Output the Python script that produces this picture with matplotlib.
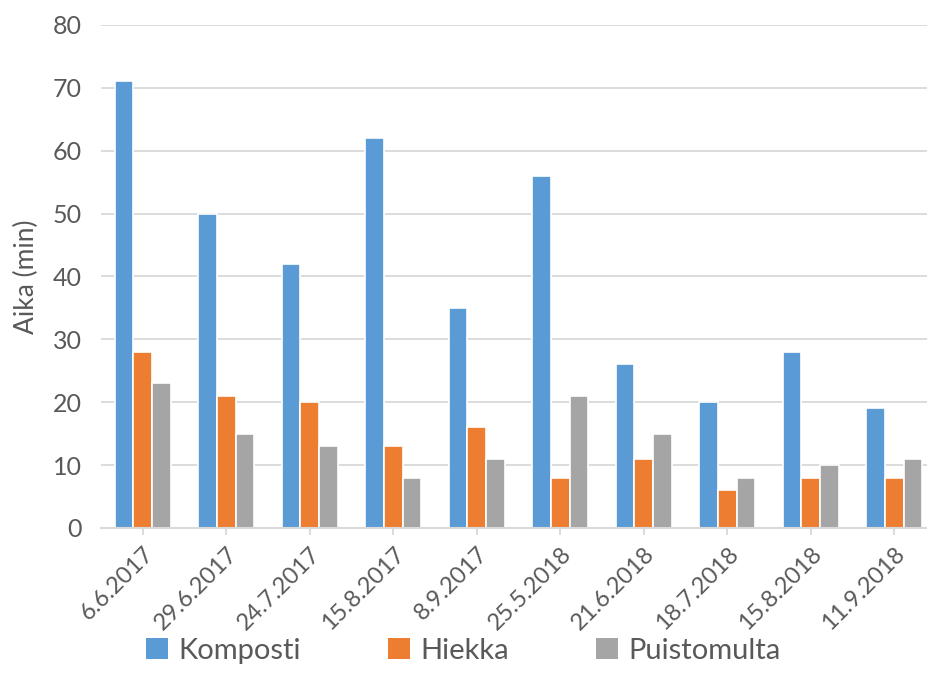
import numpy as np
import matplotlib.pyplot as plt
from matplotlib.patches import Patch

dates = ['6.6.2017', '29.6.2017', '24.7.2017', '15.8.2017', '8.9.2017',
         '25.5.2018', '21.6.2018', '18.7.2018', '15.8.2018', '11.9.2018']
komposti = [71, 50, 42, 62, 35, 56, 26, 20, 28, 19]
hiekka = [28, 21, 20, 13, 16, 8, 11, 6, 8, 8]
puistomulta = [23, 15, 13, 8, 11, 21, 15, 8, 10, 11]

series = [('Komposti', komposti, '#5B9BD5'),
          ('Hiekka', hiekka, '#ED7D31'),
          ('Puistomulta', puistomulta, '#A5A5A5')]

plt.rcParams['font.family'] = ['Lato', 'DejaVu Sans']
txt = '#595959'
grid = '#D9D9D9'

fig = plt.figure(figsize=(9.27, 6.73), dpi=100)
ax = fig.add_axes([0.109, 0.2155, 0.9007, 0.7475])

x = np.arange(len(dates))
pitch = 0.224
for i, (name, vals, col) in enumerate(series):
    ax.bar(x + (i - 1) * pitch, vals, width=pitch, color=col,
           edgecolor='white', linewidth=1.2, zorder=3)

ax.set_xlim(-0.5, len(dates) - 0.5)
ax.set_ylim(0, 80)
ax.set_yticks(range(0, 81, 10))
ax.yaxis.grid(True, color=grid, linewidth=1.3, zorder=0)
ax.set_axisbelow(True)
for s in ['top', 'right', 'left']:
    ax.spines[s].set_visible(False)
ax.spines['bottom'].set_color(grid)
ax.spines['bottom'].set_linewidth(1.5)
ax.spines['bottom'].set_zorder(4)

ax.set_xticks(x)
ax.set_xticklabels(dates, rotation=45, ha='right', rotation_mode='anchor')
ax.tick_params(axis='x', colors=grid, length=5, width=1.3, labelcolor=txt,
               labelsize=17, pad=6)
ax.tick_params(axis='y', length=0, labelcolor=txt, labelsize=18, pad=14)
ax.set_ylabel('Aika (min)', color=txt, fontsize=19, labelpad=10)

handles = [Patch(facecolor=c, label=n) for n, _, c in series]
fig.legend(handles=handles, loc='lower center', bbox_to_anchor=(0.5, -0.025),
           ncol=3, frameon=False, fontsize=21, labelcolor=txt,
           handlelength=0.75, handleheight=0.75, handletextpad=0.35,
           columnspacing=3.0)

fig.savefig('out.png', dpi=100)
